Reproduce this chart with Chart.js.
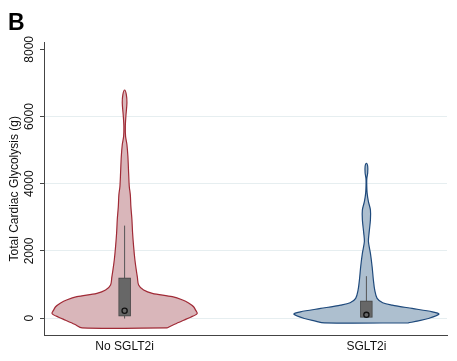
<!DOCTYPE html>
<html><head><meta charset="utf-8">
<script src="https://cdn.jsdelivr.net/npm/chart.js@4.4.1/dist/chart.umd.min.js"></script>
<style>html,body{margin:0;padding:0;background:#fff}canvas{display:block}</style>
</head><body>
<canvas id="c" width="457" height="361"></canvas>
<script>
const categories = ['No SGLT2i', 'SGLT2i'];
const catPositions = [1, 4];
const yTicks = [0, 2000, 4000, 6000, 8000];

// violin profiles: y values and half-widths (x units)
const violinValues1 = [-290, -180, -60, 30, 140, 240, 340, 450, 540, 640, 740, 840, 990, 1230, 1430, 1730, 2130, 2540, 2930, 3320, 3670, 3920, 4320, 4810, 5160, 5410, 5710, 6010, 6410, 6660, 6790];
const violinWidths1 = [0.527, 0.620, 0.732, 0.819, 0.901, 0.881, 0.856, 0.794, 0.720, 0.592, 0.344, 0.236, 0.174, 0.158, 0.145, 0.128, 0.112, 0.099, 0.091, 0.078, 0.071, 0.058, 0.050, 0.041, 0.029, 0.012, 0.009, 0.016, 0.029, 0.021, 0];
const violinValues2 = [-140, -80, -10, 120, 190, 290, 390, 460, 590, 840, 1130, 1530, 1930, 2280, 2530, 2930, 3220, 3470, 3720, 4020, 4170, 4320, 4520, 4610];
const violinWidths2 = [0.521, 0.645, 0.769, 0.900, 0.819, 0.567, 0.319, 0.202, 0.133, 0.103, 0.087, 0.071, 0.050, 0.025, 0.033, 0.050, 0.050, 0.025, 0.009, 0.004, 0.006, 0.016, 0.016, 0];

// box plot summaries
const q1 = [60, 20];
const median = [220, 100];
const q3 = [1203, 516];
const whiskerLow = [-10, 10];
const whiskerHigh = [2755, 1250];

function violinShape(center, values, widths) {
  const right = values.map((v, i) => ({x: center + widths[i], y: v}));
  const left = values.map((v, i) => ({x: center - widths[i], y: v})).reverse();
  return right.concat(left.slice(1), [right[0]]);
}

const FONT = "'Liberation Sans', Arial, Helvetica, sans-serif";
Chart.defaults.font.family = FONT;
Chart.defaults.font.size = 12;
Chart.defaults.color = '#222';

const violinStyles = [
  {bg: '#d9b6ba', border: '#a02a36'},
  {bg: '#adbfcf', border: '#1f4a7c'}
];

const datasets = [
  {type: 'scatter', data: catPositions.map((x, i) => ({x, y: median[i]})),
   pointRadius: 2.6, pointBorderWidth: 1.3, pointBorderColor: '#111', pointBackgroundColor: 'rgba(0,0,0,0)', order: 1},
  {type: 'bar', data: catPositions.map((x, i) => ({x, y: [q1[i], q3[i]]})),
   backgroundColor: '#676767', borderColor: '#444', borderWidth: 1, borderSkipped: false, barThickness: 12, order: 2},
];
catPositions.forEach((x, i) => {
  datasets.push({type: 'scatter', showLine: true, data: [{x, y: whiskerLow[i]}, {x, y: whiskerHigh[i]}],
    borderColor: '#555', borderWidth: 1, pointRadius: 0, order: 3});
});
const allV = [[violinValues1, violinWidths1], [violinValues2, violinWidths2]];
catPositions.forEach((x, i) => {
  datasets.push({type: 'scatter', showLine: true, data: violinShape(x, allV[i][0], allV[i][1]),
    fill: 'shape', backgroundColor: violinStyles[i].bg, borderColor: violinStyles[i].border,
    borderWidth: 1.2, pointRadius: 0, tension: 0.3, order: 4});
});

new Chart(document.getElementById('c'), {
  type: 'scatter',
  data: {datasets},
  options: {
    responsive: false,
    animation: false,
    devicePixelRatio: 1,
    layout: {padding: {left: 8, right: 10, top: 0, bottom: 4}},
    plugins: {
      legend: {display: false},
      tooltip: {enabled: false},
      title: {display: true, text: 'B', align: 'start', color: '#000',
        font: {size: 23, weight: 'bold', family: FONT}, padding: {top: 10, bottom: 5}}
    },
    scales: {
      x: {
        type: 'linear', min: 0, max: 5, offset: false,
        afterBuildTicks: s => { s.ticks = catPositions.map(v => ({value: v})); },
        afterFit: s => { s.height = 22; },
        ticks: {callback: v => categories[catPositions.indexOf(v)] ?? '', padding: 4, color: '#111', maxRotation: 0, autoSkip: false},
        grid: {display: false, drawTicks: false, offset: false},
        border: {display: true, color: '#444', width: 1}
      },
      y: {
        type: 'linear', min: -500, max: 8200,
        afterBuildTicks: s => { s.ticks = yTicks.map(v => ({value: v})); },
        afterFit: s => { s.width = 36; },
        ticks: {minRotation: 90, maxRotation: 90, crossAlign: 'center', padding: -3, color: '#111',
                callback: v => String(v)},
        grid: {color: c => (c.tick && c.tick.value === 8000) ? 'rgba(0,0,0,0)' : '#e6eef0', lineWidth: 1,
               tickLength: 4, tickColor: '#444', drawTicks: true},
        border: {display: true, color: '#444', width: 1},
        title: {display: true, text: 'Total Cardiac Glycolysis (g)', color: '#111', font: {size: 12}, padding: {top: -1, bottom: 0}}
      }
    }
  }
});
</script>
</body></html>
